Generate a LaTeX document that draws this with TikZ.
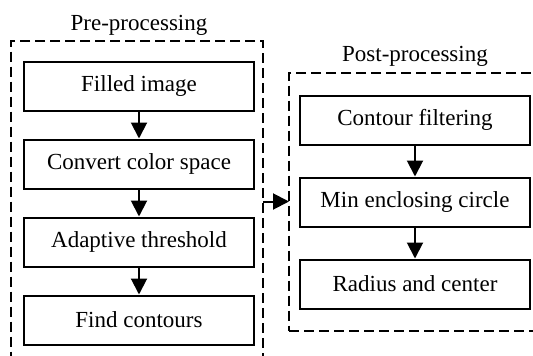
\documentclass[tikz,border=0pt]{standalone}
\usepackage{fontspec}
\setmainfont{Liberation Serif}
\usetikzlibrary{arrows.meta,positioning,fit,calc}

\begin{document}
\begin{tikzpicture}[
  x=1pt, y=1pt,
  font=\fontsize{23}{27}\selectfont,
  proc/.style={rectangle, draw, line width=2pt, minimum width=230pt, minimum height=49pt, inner sep=0pt},
  group/.style={rectangle, draw, line width=2pt, dash pattern=on 10pt off 5pt, inner sep=0pt, outer sep=0pt},
  edge/.style={-{Triangle[length=16pt,width=16pt]}, line width=2pt},
  node distance=27pt
]
\useasboundingbox (0,0) rectangle (533,-356);
\node[proc] (filled) at (139,-86) {Filled image};
\node[proc, below=of filled] (convert) {Convert color space};
\node[proc, below=of convert] (adaptive) {Adaptive threshold};
\node[proc, below=of adaptive] (contours) {Find contours};
\node[proc] (filtering) at (415,-120) {Contour filtering};
\node[proc, below=31pt of filtering] (enclosing) {Min enclosing circle};
\node[proc, below=31pt of enclosing] (radius) {Radius and center};

\coordinate (pre nw) at ($(filled.north west)+(-12,20)$);
\coordinate (pre se) at ($(contours.south east)+(8,-35)$);
\node[group, fit=(pre nw)(pre se)] (pre) {};
\coordinate (post nw) at ($(filtering.north west)+(-10,22)$);
\coordinate (post se) at ($(radius.south east)+(20,-21)$);
\node[group, fit=(post nw)(post se)] (post) {};

\node[anchor=base] at ($(filled.north |- pre.north)+(0,10)$) {Pre-processing};
\node[anchor=base] at ($(filtering.north |- post.north)+(0,11)$) {Post-processing};

\draw[edge] (filled) -- (convert);
\draw[edge] (convert) -- (adaptive);
\draw[edge] (adaptive) -- (contours);
\draw[edge] (filtering) -- (enclosing);
\draw[edge] (enclosing) -- (radius);
\draw[edge] (pre.east |- post.west) -- (post.west);
\end{tikzpicture}
\end{document}
